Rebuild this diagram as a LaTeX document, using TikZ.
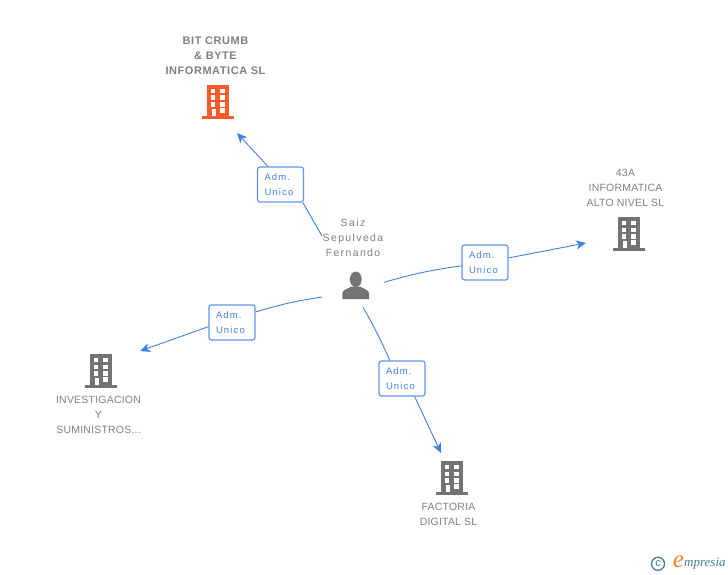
\documentclass[tikz,border=0pt]{standalone}
\usepackage{fontspec}
\setmainfont{Liberation Sans}
\newfontfamily\logofont{Liberation Serif}
\usetikzlibrary{arrows.meta}
\definecolor{linkblue}{HTML}{3F82E4}
\definecolor{boxblue}{HTML}{5F97E8}
\definecolor{towergray}{HTML}{737373}
\definecolor{textgray}{HTML}{808080}
\definecolor{towerred}{HTML}{FF5A2B}
\definecolor{logoteal}{HTML}{3F7F9A}
\definecolor{logoorange}{HTML}{F08A1D}
\tikzset{
	link/.style={linkblue,line width=.9pt},
	linkarrow/.style={link,-{Stealth[length=10pt,width=9pt,inset=3pt]}},
	rolebox/.style={draw=boxblue,line width=1.2pt,fill=white,rounded corners=2.5pt,minimum height=35pt,
		text width=32pt,inner xsep=7pt,inner ysep=0pt,align=left,text=linkblue,
		font=\fontsize{9.5}{15}\selectfont\addfontfeatures{LetterSpace=12}},
	firmlabel/.style={text=textgray,align=center,inner sep=0pt,
		font=\fontsize{10.5}{15}\selectfont\addfontfeatures{LetterSpace=2}},
	mainlabel/.style={firmlabel,font=\fontsize{11}{15}\selectfont\bfseries\addfontfeatures{LetterSpace=5}}
}
% building, base centre at #1
\newcommand{\tower}[2]{
	\begin{scope}[shift={(#1)}]
		\fill[#2] (-11,-2.7) rectangle (11,-33.7);
		\fill[#2] (-15.7,0) rectangle (16,-2.7);
		\foreach \wy in {-29.9,-23.2,-16.6}{
			\fill[white] (-7.4,\wy) rectangle (-2.8,\wy+4.6);
			\fill[white] (2.2,\wy) rectangle (6.8,\wy+4.6);
		}
		\fill[white] (2.2,-10.4) rectangle (6.8,-5.4);
		\fill[white] (-6.3,-9.7) rectangle (-2.3,-2.7);
	\end{scope}
}
\begin{document}
\begin{tikzpicture}[x=1pt,y=-1pt]
	\useasboundingbox (0,0) rectangle (728,575);
	\fill[white] (0,0) rectangle (728,575);
	% buildings
	\tower{218,118.7}{towerred}
	\tower{629,250.7}{towergray}
	\tower{101,387.7}{towergray}
	\tower{452,494.7}{towergray}
	% person
	\fill[towergray] (355.8,279.3) ellipse (5.9pt and 7.8pt);
	\fill[towergray] (342.3,299) -- (342.3,293.5) .. controls (342.3,289.5) and (348,289) .. (351.5,286.5)
		-- (360,286.5) .. controls (363.5,289) and (369,289.5) .. (369,293.5) -- (369,299) -- cycle;
	% labels
	\node[mainlabel] (bitcrumb) at (215.5,56) {BIT CRUMB\\\& BYTE\\INFORMATICA SL};
	\node[firmlabel] (altonivel) at (625.5,188) {43A\\INFORMATICA\\ALTO NIVEL SL};
	\node[firmlabel] (investigacion) at (98.5,415) {INVESTIGACION\\Y\\SUMINISTROS...};
	\node[firmlabel] (factoria) at (448.5,514.5) {FACTORIA\\DIGITAL SL};
	\node[firmlabel,font=\fontsize{10.5}{15}\selectfont\addfontfeatures{LetterSpace=13}] (saiz) at (353,238) {Saiz\\Sepulveda\\Fernando};
	% role boxes
	\node[rolebox] (roleA) at (280.5,184.5) {Adm.\\Unico};
	\node[rolebox] (roleB) at (485,262.5) {Adm.\\Unico};
	\node[rolebox] (roleC) at (232,322.5) {Adm.\\Unico};
	\node[rolebox] (roleD) at (402,378.5) {Adm.\\Unico};
	% free ends
	\coordinate (startA) at (322,236);
	\coordinate (endA) at (237,133);
	\coordinate (startB) at (384,282.3);
	\coordinate (endB) at (586,243);
	\coordinate (startC) at (322,297);
	\coordinate (endC) at (140,351);
	\coordinate (startD) at (363,307.3);
	\coordinate (endD) at (441,453);
	% connectors
	\draw[link] (startA) -- (roleA.-39);
	\draw[linkarrow] (roleA.125) -- (endA);
	\draw[link] (startB) to[bend left=4] (roleB.188);
	\draw[linkarrow] (roleB.11) -- (endB);
	\draw[link] (startC) to[bend right=4] (roleC.24);
	\draw[linkarrow] (roleC.190) -- (endC);
	\draw[link] (startD) to[bend left=3] (roleD.124);
	\draw[linkarrow] (roleD.-55) -- (endD);
	% logo
	\node[circle,draw=logoteal,line width=1.3pt,text=logoteal,inner sep=0pt,minimum size=13pt,font=\fontsize{11}{11}\selectfont] (copy) at (658,563.8) {c};
	\node[text=logoorange,inner sep=0pt,font=\logofont\fontsize{25}{25}\selectfont\itshape] (logoe) at (678.5,561.5) {e};
	\node[text=logoteal,inner sep=0pt,anchor=west,font=\logofont\fontsize{13}{14}\selectfont\itshape] (logotext) at (684,564) {mpresia};
\end{tikzpicture}
\end{document}
